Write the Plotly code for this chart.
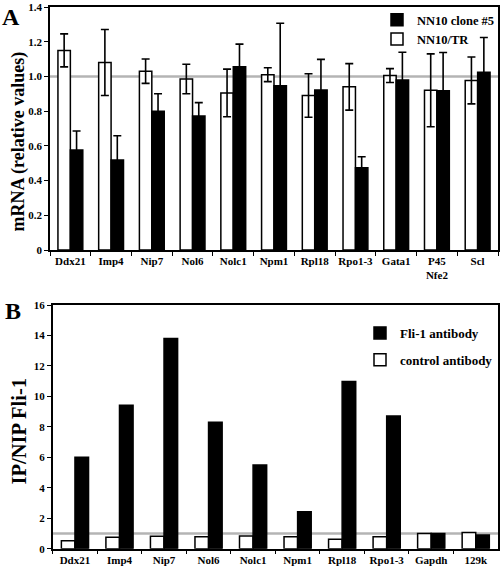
import plotly.graph_objects as go

# ---- Panel A data ----
genes_a = ["Ddx21", "Imp4", "Nip7", "Nol6", "Nolc1", "Npm1", "Rpl18", "Rpo1-3", "Gata1", "P45<br>Nfe2", "Scl"]
tr_vals = [1.15, 1.08, 1.03, 0.985, 0.905, 1.01, 0.89, 0.94, 1.005, 0.92, 0.977]
tr_err = [0.095, 0.19, 0.07, 0.085, 0.137, 0.04, 0.125, 0.134, 0.04, 0.21, 0.135]
cl_vals = [0.576, 0.518, 0.80, 0.772, 1.056, 0.946, 0.922, 0.474, 0.979, 0.918, 1.024]
cl_err = [0.11, 0.14, 0.10, 0.077, 0.13, 0.36, 0.176, 0.063, 0.16, 0.22, 0.20]
yticks_a = [0, 0.2, 0.4, 0.6, 0.8, 1.0, 1.2, 1.4]
yticklabels_a = ["0", "0.2", "0.4", "0.6", "0.8", "1.0", "1.2", "1.4"]

# ---- Panel B data ----
genes_b = ["Ddx21", "Imp4", "Nip7", "Nol6", "Nolc1", "Npm1", "Rpl18", "Rpo1-3", "Gapdh", "129k"]
ctrl_vals = [0.53, 0.75, 0.81, 0.78, 0.83, 0.78, 0.62, 0.78, 1.0, 1.07]
fli_vals = [6.0, 9.42, 13.8, 8.3, 5.5, 2.43, 10.97, 8.71, 1.0, 0.9]
yticks_b = [0, 2, 4, 6, 8, 10, 12, 14, 16]

FONT = "Liberation Serif"
W, H = 500, 569

def px(x):
    return x / W

def py(y):
    return 1 - y / H

fig = go.Figure()

err_style = dict(type="data", visible=True, color="black", thickness=1.6, width=4)

fig.add_trace(go.Bar(
    x=genes_a, y=tr_vals, name="NN10/TR", xaxis="x", yaxis="y",
    marker=dict(color="white", line=dict(color="black", width=1.5)),
    error_y=dict(array=tr_err, **err_style),
    legend="legend", legendrank=2,
))
fig.add_trace(go.Bar(
    x=genes_a, y=cl_vals, name="NN10 clone #5", xaxis="x", yaxis="y",
    marker=dict(color="black", line=dict(color="black", width=1.5)),
    error_y=dict(array=cl_err, **err_style),
    legend="legend", legendrank=1,
))
fig.add_trace(go.Bar(
    x=genes_b, y=ctrl_vals, name="control antibody", xaxis="x2", yaxis="y2",
    marker=dict(color="white", line=dict(color="black", width=1.5)),
    legend="legend2", legendrank=2, legendgroup="b2",
))
fig.add_trace(go.Bar(
    x=genes_b, y=fli_vals, name="Fli-1 antibody", xaxis="x2", yaxis="y2",
    marker=dict(color="black", line=dict(color="black", width=1.5)),
    legend="legend2", legendrank=1, legendgroup="b1",
))

axis_common = dict(
    showline=True, linecolor="black", linewidth=1.5, mirror=True,
    ticks="outside", ticklen=4, tickwidth=1.3, tickcolor="black",
    showgrid=False, zeroline=False,
    tickfont=dict(family=FONT, size=11, color="black", weight="bold"),
    automargin=False, tickangle=0,
)

fig.update_layout(
    width=W, height=H,
    margin=dict(l=0, r=0, t=0, b=0),
    paper_bgcolor="white", plot_bgcolor="white",
    barmode="group", bargap=0.39, bargroupgap=0,
    font=dict(family=FONT, color="black"),
    xaxis=dict(domain=[px(50), px(498)], anchor="y", tickson="boundaries", **axis_common),
    yaxis=dict(domain=[py(250), py(7)], anchor="x", range=[0, 1.4],
               tickvals=yticks_a, ticktext=yticklabels_a, **axis_common),
    xaxis2=dict(domain=[px(52.7), px(498)], anchor="y2", tickson="boundaries", **axis_common),
    yaxis2=dict(domain=[py(548.7), py(305)], anchor="x2", range=[0, 16],
                tickvals=yticks_b, **axis_common),
    legend=dict(x=1.0, y=py(5), xanchor="right", yanchor="top",
                bgcolor="rgba(0,0,0,0)", borderwidth=0,
                font=dict(family=FONT, size=12.5, color="black", weight="bold")),
    legend2=dict(x=px(360), y=py(318), xanchor="left", yanchor="top",
                 bgcolor="rgba(0,0,0,0)", borderwidth=0, tracegroupgap=7,
                 font=dict(family=FONT, size=13, color="black", weight="bold")),
    showlegend=True,
    shapes=[
        dict(type="line", xref="x domain", yref="y", x0=0, x1=1, y0=1, y1=1,
             line=dict(color="#b4b4b4", width=2.5), layer="below"),
        dict(type="line", xref="x2 domain", yref="y2", x0=0, x1=1, y0=1, y1=1,
             line=dict(color="#b4b4b4", width=2.5), layer="below"),
    ],
    annotations=[
        dict(text="A", x=px(0), y=py(2), xref="paper", yref="paper", xanchor="left", yanchor="top",
             showarrow=False, font=dict(family=FONT, size=24, color="black", weight="bold")),
        dict(text="B", x=px(3), y=py(296), xref="paper", yref="paper", xanchor="left", yanchor="top",
             showarrow=False, font=dict(family=FONT, size=24, color="black", weight="bold")),
        dict(text="mRNA (relative values)", x=px(17.5), y=py(142), xref="paper", yref="paper",
             xanchor="center", yanchor="middle", textangle=-90, showarrow=False,
             font=dict(family=FONT, size=18, color="black", weight="bold")),
        dict(text="IP/NIP Fli-1", x=px(18.5), y=py(432), xref="paper", yref="paper",
             xanchor="center", yanchor="middle", textangle=-90, showarrow=False,
             font=dict(family=FONT, size=20.5, color="black", weight="bold")),
    ],
)

fig.write_html(
    "out.html",
    config={"displayModeBar": False},
    post_script="document.body.style.margin='0';document.body.style.overflow='hidden';",
)
